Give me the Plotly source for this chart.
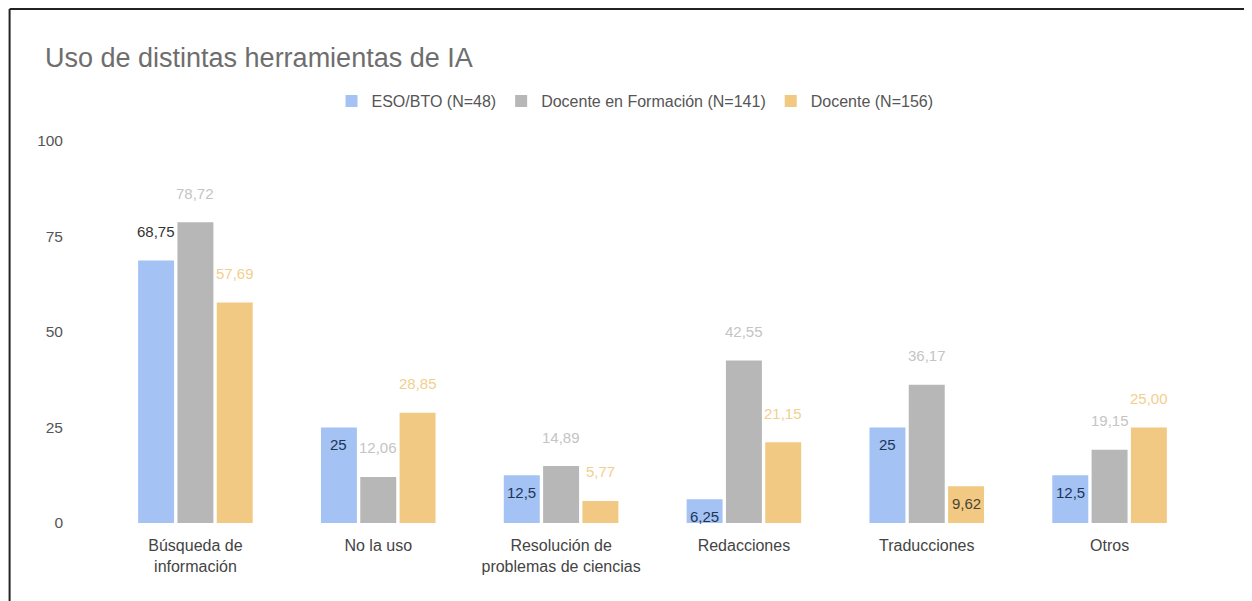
import plotly.graph_objects as go

categories = [
    "Búsqueda de<br>información",
    "No la uso",
    "Resolución de<br>problemas de ciencias",
    "Redacciones",
    "Traducciones",
    "Otros",
]
series_names = ["ESO/BTO (N=48)", "Docente en Formación (N=141)", "Docente (N=156)"]
eso_bto = [68.75, 25, 12.5, 6.25, 25, 12.5]
docente_formacion = [78.72, 12.06, 14.89, 42.55, 36.17, 19.15]
docente = [57.69, 28.85, 5.77, 21.15, 9.62, 25.00]

FONT = "Liberation Sans, Arial, sans-serif"
colors = ["#a4c2f4", "#b7b7b7", "#f1c983"]

# figure sits 8px inside the page (body margin), so sizes are in figure pixels
W, H = 1244, 593
L, R, T, B = 95.5, 50.5, 133, 78
plot_w, plot_h = W - L - R, H - T - B
band = plot_w / len(categories)
bargap = 0.355
slot = band * (1 - bargap) / 3


def fmt(v, decimals):
    s = f"{v:g}" if decimals is None else f"{v:.{decimals}f}"
    return s.replace(".", ",")


fig = go.Figure()
for name, vals, col in zip(series_names, [eso_bto, docente_formacion, docente], colors):
    fig.add_trace(go.Bar(name=name, x=categories, y=vals, marker_color=col,
                         marker_line_width=0))

# data labels: (values, offset index, decimals, inside flags, outside color, inside color)
label_specs = [
    (eso_bto, -1, None, [False, True, True, True, True, True], "#333333", "#1d3557"),
    (docente_formacion, 0, 2, [False] * 6, "#c4c4c4", "#333333"),
    (docente, 1, 2, [False, False, False, False, True, False], "#f2cf8e", "#4a4433"),
]
annotations = []
for vals, k, dec, inside, out_col, in_col in label_specs:
    for cat, v, ins in zip(categories, vals, inside):
        annotations.append(dict(
            x=cat, y=v, xref="x", yref="y", text=fmt(v, dec), showarrow=False,
            xshift=k * slot, yshift=-17 if ins else 29, yanchor="middle",
            font=dict(family=FONT, size=15, color=in_col if ins else out_col),
        ))

fig.update_layout(
    width=W, height=H,
    margin=dict(l=L, r=R, t=T, b=B),
    paper_bgcolor="white", plot_bgcolor="white",
    barmode="group", bargap=bargap, bargroupgap=0.085,
    font=dict(family=FONT, size=16, color="#444444"),
    title=dict(text="Uso de distintas herramientas de IA", x=37 / W, xref="container",
               xanchor="left", y=1 - 50 / H, yref="container", yanchor="middle",
               font=dict(family=FONT, size=27, color="#6e6e6e")),
    legend=dict(orientation="h", x=(627 - L) / plot_w, xanchor="center",
                y=1 + (T - 93) / plot_h, yanchor="middle",
                font=dict(family=FONT, size=16, color="#555555"),
                bgcolor="rgba(0,0,0,0)"),
    showlegend=True,
    annotations=annotations,
    shapes=[
        dict(type="line", xref="paper", yref="paper",
             x0=(1 - L) / plot_w, x1=(W - L) / plot_w,
             y0=(H - B - 1) / plot_h, y1=(H - B - 1) / plot_h,
             line=dict(color="#222222", width=2)),
        dict(type="line", xref="paper", yref="paper",
             x0=(1 - L) / plot_w, x1=(1 - L) / plot_w,
             y0=(H - B - 1) / plot_h, y1=-(B + 5) / plot_h,
             line=dict(color="#222222", width=2)),
    ],
)
fig.update_xaxes(showgrid=False, showline=False, ticks="", ticklabelstandoff=11,
                 tickfont=dict(size=16, color="#444444"))
fig.update_yaxes(range=[0, 100], tickvals=[0, 25, 50, 75, 100], showgrid=False,
                 zeroline=False, showline=False, ticks="", ticklabelstandoff=40,
                 tickfont=dict(size=15.5, color="#555555"))

fig.write_html("out.html")
